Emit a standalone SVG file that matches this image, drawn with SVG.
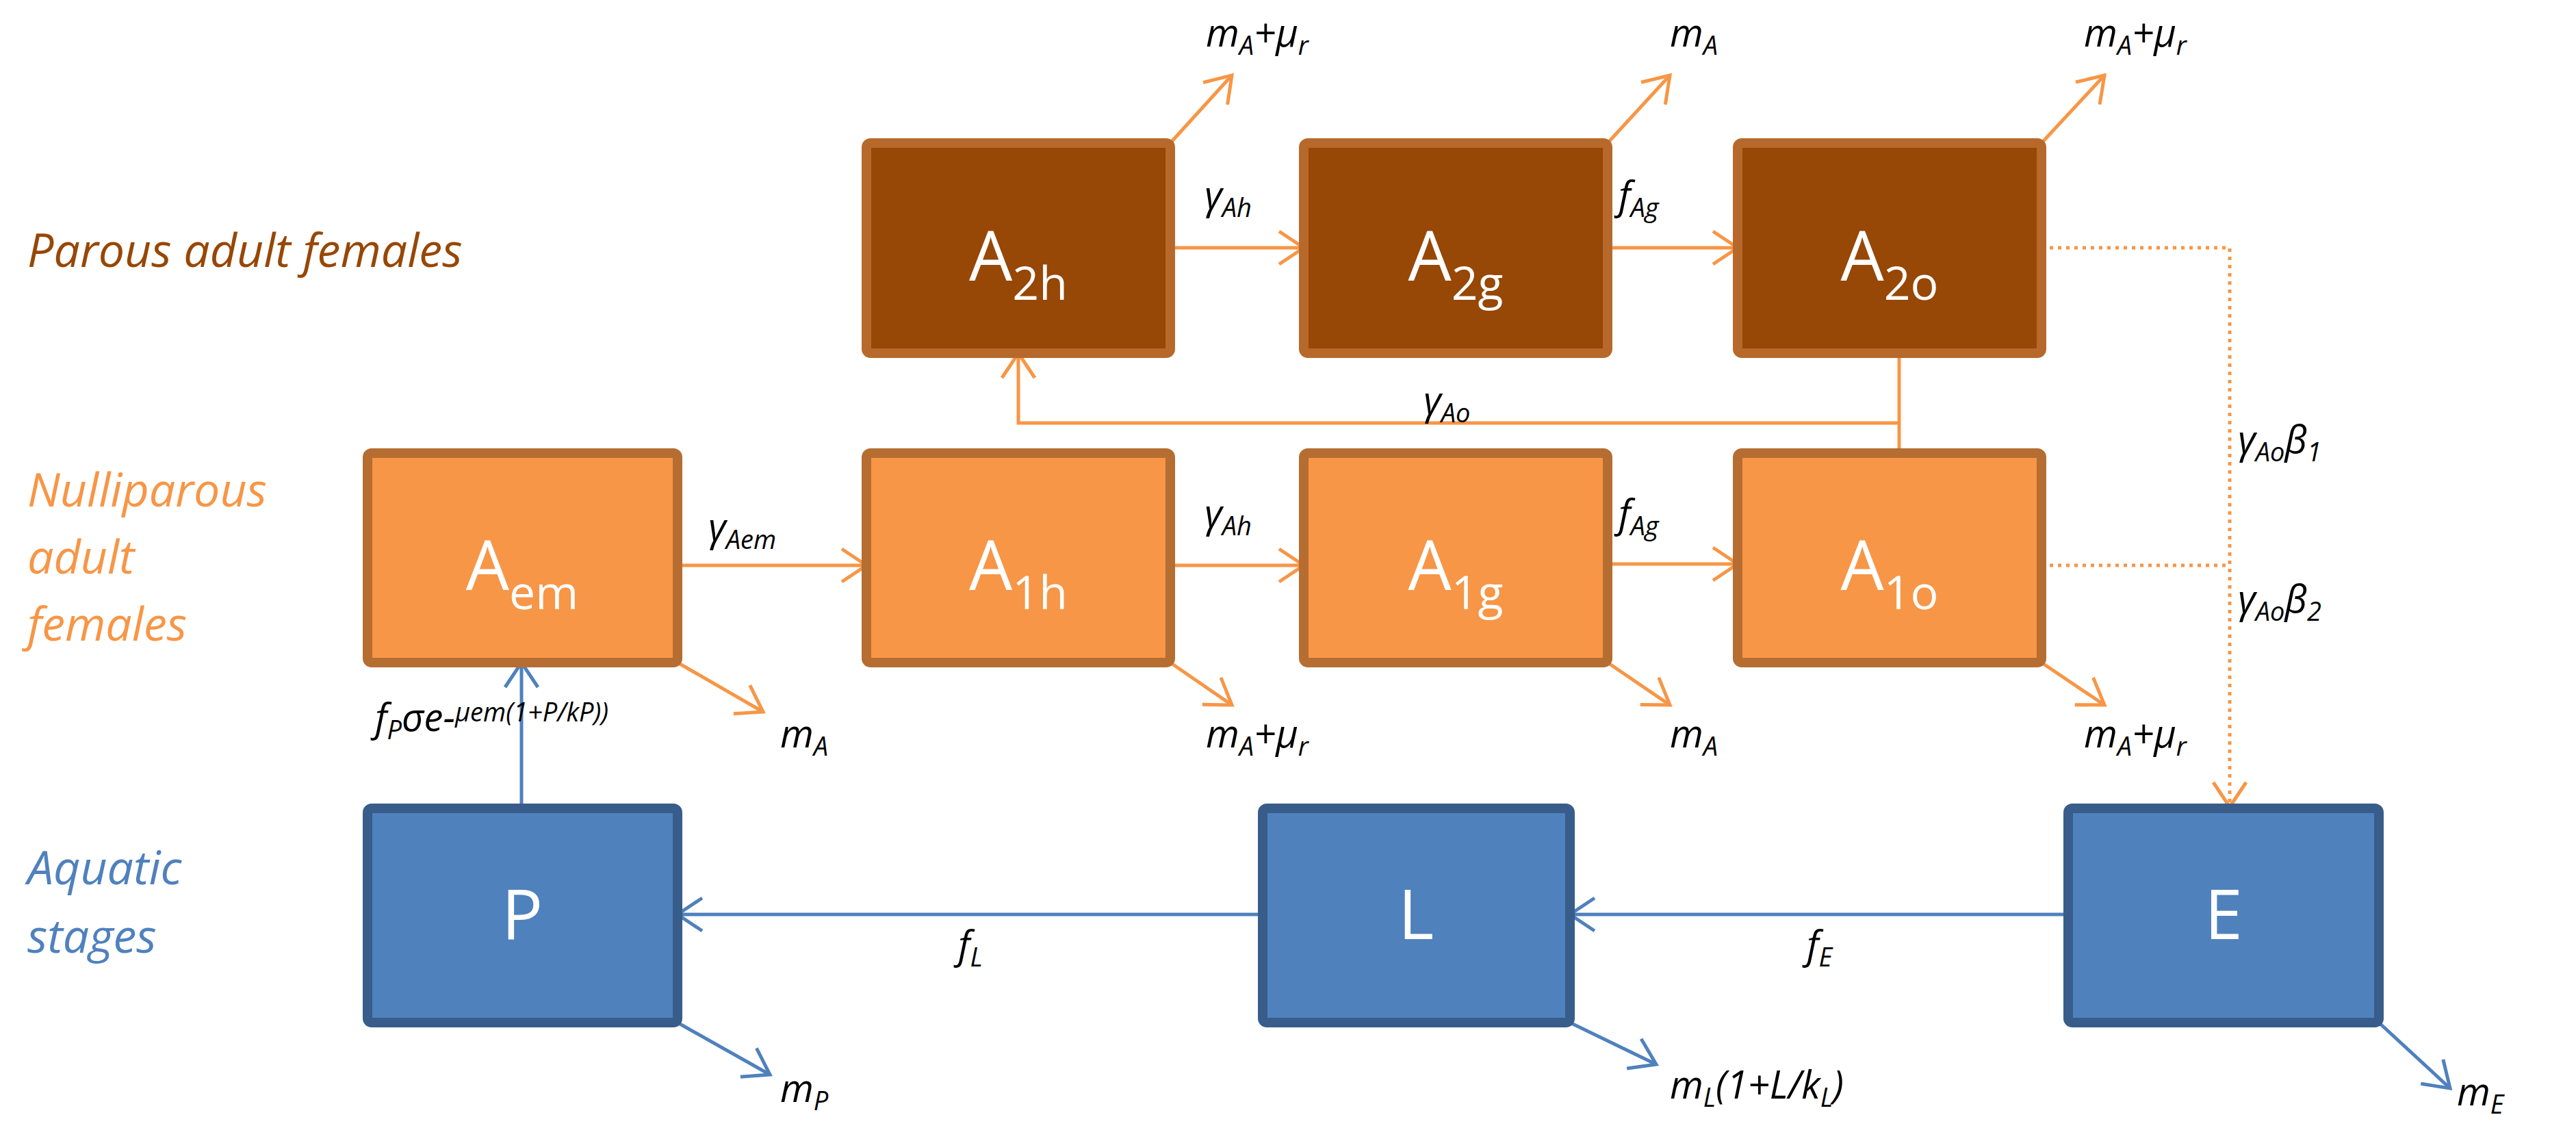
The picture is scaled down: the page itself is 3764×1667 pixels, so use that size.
<svg xmlns="http://www.w3.org/2000/svg" width="3764" height="1667" viewBox="0 0 3764 1667">
<defs>
<marker id="ao" markerUnits="userSpaceOnUse" markerWidth="60" markerHeight="60" refX="40" refY="30" orient="auto"><path d="M4,6 L40,30 L4,54" fill="none" stroke="#F79646" stroke-width="5"/></marker>
<marker id="ab" markerUnits="userSpaceOnUse" markerWidth="60" markerHeight="60" refX="40" refY="30" orient="auto"><path d="M4,6 L40,30 L4,54" fill="none" stroke="#4F81BD" stroke-width="5"/></marker>
</defs>
<style>
.bx text{font-family:"Open Sans","Liberation Sans",sans-serif;fill:#fff;text-anchor:middle;font-size:100px}
.par rect{fill:#974706;stroke:#B7692B;stroke-width:14}
.nul rect{fill:#F79646;stroke:#B66D31;stroke-width:14}
.aq rect{fill:#4F81BD;stroke:#385D8A;stroke-width:14}
.o{stroke:#F79646;stroke-width:5;fill:none}
.b{stroke:#4F81BD;stroke-width:5;fill:none}
.d{stroke:#F79646;stroke-width:5;fill:none;stroke-dasharray:5 7}
.l{font-family:"Open Sans","Liberation Sans",sans-serif;font-style:italic;font-size:56px;fill:#000}
.g{font-family:"Open Sans","Liberation Sans",sans-serif;font-style:italic;font-size:68px}
.s{font-size:38px}
</style>
<text class="g" x="40" y="390" fill="#974706">Parous adult females</text>
<text class="g" fill="#F79646"><tspan x="40" y="740">Nulliparous</tspan><tspan x="40" y="838">adult</tspan><tspan x="40" y="936">females</tspan></text>
<text class="g" fill="#4F81BD"><tspan x="40" y="1292">Aquatic</tspan><tspan x="40" y="1392">stages</tspan></text>

<g id="connectors">
<path class="o" d="M1710,362 H1905" marker-end="url(#ao)"/>
<path class="o" d="M2349,362 H2539" marker-end="url(#ao)"/>
<path class="o" d="M2775,516 V660 M2775,618 H1488 V516" marker-end="url(#ao)"/>
<path class="o" d="M990,826 H1266" marker-end="url(#ao)"/>
<path class="o" d="M1710,826 H1905" marker-end="url(#ao)"/>
<path class="o" d="M2349,824 H2539" marker-end="url(#ao)"/>
<path class="d" d="M2983,362 H3258 V1179" marker-end="url(#ao)"/>
<path class="d" d="M2983,826 H3258"/>
<path class="o" d="M1710,209 L1800,110" marker-end="url(#ao)"/>
<path class="o" d="M2349,209 L2440,110" marker-end="url(#ao)"/>
<path class="o" d="M2983,209 L3075,110" marker-end="url(#ao)"/>
<path class="o" d="M990,968 L1115,1040" marker-end="url(#ao)"/>
<path class="o" d="M1710,968 L1800,1030" marker-end="url(#ao)"/>
<path class="o" d="M2349,968 L2440,1030" marker-end="url(#ao)"/>
<path class="o" d="M2983,968 L3075,1030" marker-end="url(#ao)"/>
<path class="b" d="M762,1179 V968" marker-end="url(#ab)"/>
<path class="b" d="M1845,1336 H990" marker-end="url(#ab)"/>
<path class="b" d="M3022,1336 H2294" marker-end="url(#ab)"/>
<path class="b" d="M990,1494 L1125,1570" marker-end="url(#ab)"/>
<path class="b" d="M2294,1494 L2420,1555" marker-end="url(#ab)"/>
<path class="b" d="M3476,1494 L3580,1590" marker-end="url(#ab)"/>
</g>

<g class="l">
<text x="1760" y="305">γ<tspan class="s" dy="12">Ah</tspan></text>
<text x="2365" y="305">f<tspan class="s" dy="12">Ag</tspan></text>
<text x="2080" y="605">γ<tspan class="s" dy="12">Ao</tspan></text>
<text x="1035" y="790">γ<tspan class="s" dy="12">Aem</tspan></text>
<text x="1760" y="770">γ<tspan class="s" dy="12">Ah</tspan></text>
<text x="2365" y="770">f<tspan class="s" dy="12">Ag</tspan></text>
<text x="3270" y="662">γ<tspan class="s" dy="12">Ao</tspan><tspan dy="-12">β</tspan><tspan class="s" dy="12">1</tspan></text>
<text x="3270" y="895">γ<tspan class="s" dy="12">Ao</tspan><tspan dy="-12">β</tspan><tspan class="s" dy="12">2</tspan></text>
<text x="1762" y="68">m<tspan class="s" dy="12">A</tspan><tspan dy="-12">+μ</tspan><tspan class="s" dy="12">r</tspan></text>
<text x="2440" y="68">m<tspan class="s" dy="12">A</tspan></text>
<text x="3045" y="68">m<tspan class="s" dy="12">A</tspan><tspan dy="-12">+μ</tspan><tspan class="s" dy="12">r</tspan></text>
<text x="1140" y="1092">m<tspan class="s" dy="12">A</tspan></text>
<text x="1762" y="1092">m<tspan class="s" dy="12">A</tspan><tspan dy="-12">+μ</tspan><tspan class="s" dy="12">r</tspan></text>
<text x="2440" y="1092">m<tspan class="s" dy="12">A</tspan></text>
<text x="3045" y="1092">m<tspan class="s" dy="12">A</tspan><tspan dy="-12">+μ</tspan><tspan class="s" dy="12">r</tspan></text>
<text x="548" y="1068">f<tspan class="s" dy="12">P</tspan><tspan dy="-12">σe-</tspan><tspan class="s" dy="-14">μem(1+P/kP))</tspan></text>
<text x="1400" y="1400">f<tspan class="s" dy="12">L</tspan></text>
<text x="2640" y="1400">f<tspan class="s" dy="12">E</tspan></text>
<text x="1140" y="1610">m<tspan class="s" dy="12">P</tspan></text>
<text x="2440" y="1605">m<tspan class="s" dy="12">L</tspan><tspan dy="-12">(1+L/k</tspan><tspan class="s" dy="12">L</tspan><tspan dy="-12">)</tspan></text>
<text x="3590" y="1615">m<tspan class="s" dy="12">E</tspan></text>
</g>

<g id="A2h" class="bx par"><rect x="1266" y="209" width="444" height="307" rx="6"/><text x="1488" y="410">A<tspan font-size="68" dy="28">2h</tspan></text></g>
<g id="A2g" class="bx par"><rect x="1905" y="209" width="444" height="307" rx="6"/><text x="2127" y="410">A<tspan font-size="68" dy="28">2g</tspan></text></g>
<g id="A2o" class="bx par"><rect x="2539" y="209" width="444" height="307" rx="6"/><text x="2761" y="410">A<tspan font-size="68" dy="28">2o</tspan></text></g>
<g id="Aem" class="bx nul"><rect x="537" y="662" width="453" height="306" rx="6"/><text x="763" y="862">A<tspan font-size="68" dy="28">em</tspan></text></g>
<g id="A1h" class="bx nul"><rect x="1266" y="662" width="444" height="306" rx="6"/><text x="1488" y="862">A<tspan font-size="68" dy="28">1h</tspan></text></g>
<g id="A1g" class="bx nul"><rect x="1905" y="662" width="444" height="306" rx="6"/><text x="2127" y="862">A<tspan font-size="68" dy="28">1g</tspan></text></g>
<g id="A1o" class="bx nul"><rect x="2539" y="662" width="444" height="306" rx="6"/><text x="2761" y="862">A<tspan font-size="68" dy="28">1o</tspan></text></g>
<g id="P" class="bx aq"><rect x="537" y="1181" width="453" height="313" rx="6"/><text x="763" y="1372">P</text></g>
<g id="L" class="bx aq"><rect x="1845" y="1181" width="449" height="313" rx="6"/><text x="2069" y="1372">L</text></g>
<g id="E" class="bx aq"><rect x="3022" y="1181" width="454" height="313" rx="6"/><text x="3249" y="1372">E</text></g>
</svg>
